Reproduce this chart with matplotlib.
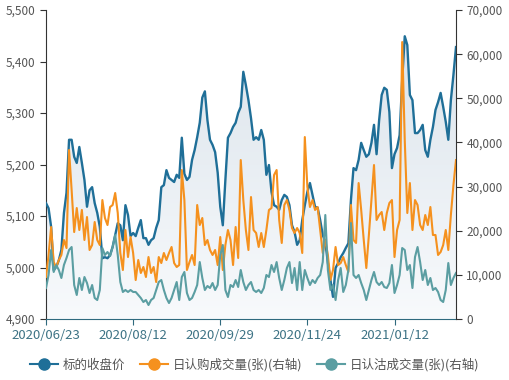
import matplotlib
matplotlib.use("Agg")
import matplotlib.pyplot as plt
import numpy as np
import pandas as pd
from matplotlib.colors import LinearSegmentedColormap
from matplotlib.lines import Line2D
from matplotlib.patches import Polygon
from matplotlib.ticker import FuncFormatter

plt.rcParams["font.family"] = ["Noto Sans CJK SC", "DejaVu Sans"]

# trading days 2020/06/23 - 2021/02/22 (SSE holidays removed)
holidays = ["2020-06-25", "2020-06-26", "2020-10-01", "2020-10-02", "2020-10-05",
            "2020-10-06", "2020-10-07", "2020-10-08", "2021-01-01", "2021-02-11",
            "2021-02-12", "2021-02-15", "2021-02-16", "2021-02-17"]
days = pd.bdate_range("2020-06-23", "2021-02-22")
days = days[~days.isin(pd.to_datetime(holidays))]
dates = [d.strftime("%Y/%m/%d") for d in days]

close_price = [
    5125, 5115, 5079, 4995, 5001, 5014, 5034, 5106, 5145, 5248,
    5248, 5215, 5203, 5234, 5203, 5170, 5118, 5150, 5156, 5125,
    5106, 5079, 5018, 5020, 5018, 5024, 5040, 5063, 5086, 5082,
    5053, 5121, 5102, 5061, 5067, 5061, 5077, 5092, 5057, 5057,
    5044, 5053, 5057, 5077, 5092, 5156, 5160, 5189, 5174, 5170,
    5166, 5180, 5174, 5252, 5182, 5170, 5176, 5209, 5228, 5253,
    5281, 5330, 5342, 5286, 5248, 5238, 5224, 5184, 5118, 5082,
    5170, 5252, 5261, 5273, 5281, 5300, 5312, 5380, 5354, 5325,
    5290, 5248, 5253, 5248, 5267, 5248, 5180, 5199, 5147, 5121,
    5118, 5112, 5131, 5141, 5137, 5121, 5082, 5069, 5044, 5053,
    5092, 5121, 5147, 5164, 5141, 5118, 5116, 5092, 5063, 5050,
    5009, 4976, 4943, 4999, 5009, 5020, 5028, 5038, 5047, 5131,
    5193, 5189, 5209, 5242, 5228, 5215, 5220, 5242, 5277, 5220,
    5286, 5335, 5349, 5345, 5302, 5193, 5220, 5232, 5257, 5364,
    5449, 5432, 5335, 5325, 5261, 5261, 5267, 5277, 5228, 5215,
    5248, 5273, 5306, 5321, 5339, 5312, 5283, 5248, 5325, 5374,
    5428,
]

call_volume = [
    9510, 14500, 20840, 12900, 11780, 13360, 14500, 17900, 16080, 38280,
    29220, 19700, 25140, 20160, 24700, 17900, 23100, 15630, 16760, 21970,
    17900, 16760, 26950, 22880, 21290, 25370, 25820, 28540, 24010, 14950,
    11100, 20160, 14040, 18570, 14950, 8830, 13360, 10420, 11780, 9510,
    14040, 10420, 11780, 8380, 14040, 12680, 14950, 13360, 14950, 16310,
    12680, 11780, 12230, 33750, 26950, 11100, 12900, 14500, 12230, 25820,
    21290, 22880, 16760, 17900, 15630, 14500, 15630, 12230, 18570, 11100,
    16760, 20160, 17900, 12230, 20840, 13820, 36010, 26950, 20160, 15630,
    27630, 20160, 19480, 16310, 19480, 16310, 20160, 24690, 25140, 32620,
    33750, 22430, 17220, 25820, 26950, 24700, 20610, 19480, 20610, 19480,
    14950, 41220, 29900, 25370, 26950, 24700, 25370, 20160, 14950, 17900,
    14500, 8830, 11100, 16310, 12230, 12680, 14040, 12230, 10650, 25820,
    17900, 17220, 30800, 24700, 17900, 11550, 19030, 26950, 34880, 22430,
    23560, 24240, 20160, 24010, 26270, 26950, 14040, 20160, 22430, 62740,
    40540, 24010, 30800, 20160, 26950, 25820, 21290, 20160, 23560, 21290,
    25370, 19030, 19030, 14500, 15180, 16760, 20160, 15630, 23560, 30350,
    36010,
]

put_volume = [
    7020, 9970, 15630, 10650, 12230, 11100, 9290, 12230, 13820, 15630,
    16310, 7700, 5440, 9290, 6570, 9510, 8150, 5890, 7700, 4760,
    4300, 6570, 16080, 14500, 15180, 14270, 16310, 19030, 14500, 8380,
    6120, 6570, 6120, 6570, 6120, 6120, 5440, 4760, 3850, 4300,
    3170, 4300, 4760, 6570, 8380, 8830, 6570, 4760, 3620, 4760,
    6570, 8380, 4300, 9510, 10650, 5890, 4300, 4760, 6120, 7700,
    12900, 9290, 6570, 7480, 7020, 8150, 6570, 7700, 14500, 16760,
    6570, 4980, 7700, 7250, 8830, 7250, 11100, 8380, 6570, 7700,
    8380, 6570, 6120, 6570, 5890, 7020, 9970, 9510, 12230, 10650,
    12900, 9290, 6570, 8830, 11550, 12900, 8150, 11550, 6570, 12900,
    6570, 11100, 9290, 7700, 8830, 8150, 9290, 9970, 12900, 23560,
    11100, 6570, 7700, 4300, 8830, 11550, 6120, 7700, 11100, 21740,
    9970, 9290, 9970, 8150, 6570, 4300, 6570, 8830, 10650, 8380,
    7700, 8380, 7250, 7020, 8150, 12230, 5890, 7700, 9970, 16080,
    15630, 11100, 12230, 7020, 14040, 16310, 12900, 8830, 11100, 7700,
    9290, 6570, 7020, 6120, 4300, 3850, 6570, 12680, 7700, 9290,
    10420,
]

labels = ["标的收盘价", "日认购成交量(张)(右轴)", "日认沽成交量(张)(右轴)"]
colors = ["#1f6f98", "#f5911e", "#5b9ea2"]

x = np.arange(len(dates))
tick_idx = [0, 34, 68, 102, 136]

fig = plt.figure(figsize=(5.09, 3.80), dpi=100)
ax1 = fig.add_axes([46 / 509, 1 - 319 / 380, 410 / 509, 309 / 380])
ax2 = ax1.twinx()

# gradient area under the price line
grad = np.linspace(0, 1, 256).reshape(-1, 1)
cmap = LinearSegmentedColormap.from_list("area", ["#f8fafc", "#d9e2ea"])
im = ax1.imshow(grad, extent=[0, len(x) - 1, 4900, 5500], origin="lower",
                aspect="auto", cmap=cmap, zorder=0)
verts = [(0, 4900)] + list(zip(x, close_price)) + [(len(x) - 1, 4900)]
clip = Polygon(verts, closed=True, facecolor="none", edgecolor="none",
               transform=ax1.transData)
ax1.add_patch(clip)
im.set_clip_path(clip)

ax1.plot(x, close_price, color=colors[0], lw=1.7, zorder=3)
ax2.plot(x, call_volume, color=colors[1], lw=1.5)
ax2.plot(x, put_volume, color=colors[2], lw=1.5)

ax1.set_xlim(0, len(x) - 1)
ax1.set_ylim(4900, 5500)
ax2.set_ylim(0, 70000)
ax1.set_yticks(np.arange(4900, 5501, 100))
ax2.set_yticks(np.arange(0, 70001, 10000))
fmt = FuncFormatter(lambda v, p: f"{v:,.0f}")
ax1.yaxis.set_major_formatter(fmt)
ax2.yaxis.set_major_formatter(fmt)

ax1.set_xticks(tick_idx)
ax1.set_xticklabels([dates[i] for i in tick_idx])
ax1.tick_params(axis="x", colors="#2f6a7e", labelcolor="#3d7385",
                labelsize=9.5, length=4, pad=3)
ax1.tick_params(axis="y", colors="#333333", labelcolor="#555555",
                labelsize=8.5, length=4)
ax2.tick_params(axis="y", colors="#333333", labelcolor="#555555",
                labelsize=8.5, length=4)

for ax in (ax1, ax2):
    ax.spines["top"].set_visible(False)
    ax.patch.set_visible(False)
ax1.spines["left"].set_color("#333333")
ax1.spines["right"].set_visible(False)
ax2.spines["left"].set_visible(False)
ax2.spines["right"].set_color("#333333")
ax1.spines["bottom"].set_color("#2f6a7e")
ax2.spines["bottom"].set_visible(False)

handles = [Line2D([0], [0], color=c, lw=1.5, marker="o", markersize=8)
           for c in colors]
fig.legend(handles, labels, loc="center", bbox_to_anchor=(0.5, 1 - 365 / 380),
           ncol=3, frameon=False, fontsize=9, handlelength=2.2,
           handletextpad=0.4, columnspacing=1.2, labelcolor="#555555")

fig.savefig("out.png", dpi=100)
print(len(dates), len(close_price), len(call_volume), len(put_volume))
